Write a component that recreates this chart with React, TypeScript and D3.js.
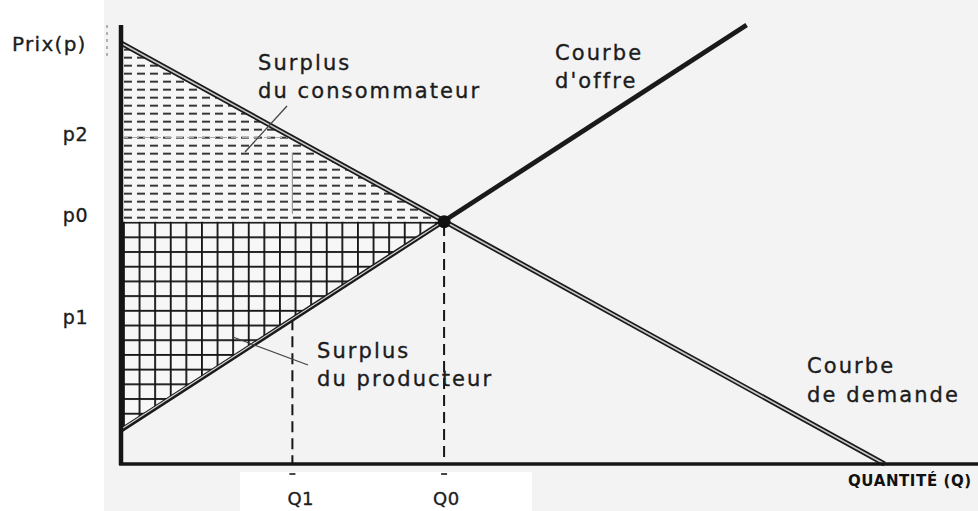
import * as d3 from "d3";

// equilibrium diagram values (quantity 0-100, price 0-100)
const demand = [
  { q: 0, p: 95.9 },
  { q: 89.1, p: 0 },
];
const supply = [
  { q: 0, p: 7.7 },
  { q: 73, p: 100 },
];
const equilibrium = { q: 37.7, p: 55.2 };
const q1 = 20;
const priceLevels = [
  { label: "p2", value: 74.4 },
  { label: "p0", value: 55.2 },
  { label: "p1", value: 32.9 },
];
const quantityLevels = [
  { label: "Q1", value: q1 },
  { label: "Q0", value: equilibrium.q },
];

const width = 978;
const height = 511;
const margin = { top: 25, right: 0, bottom: 47, left: 121 };

const font = "'DejaVu Sans', sans-serif";
const ink = "#151515";

const App = () => {
  const x = d3.scaleLinear().domain([0, 100]).range([margin.left, width - margin.right]);
  const y = d3.scaleLinear().domain([0, 100]).range([height - margin.bottom, margin.top]);

  const line = d3
    .line<{ q: number; p: number }>()
    .x((d) => x(d.q))
    .y((d) => y(d.p));

  const x0 = x(0);
  const y0 = y(0);
  const ex = x(equilibrium.q);
  const ey = y(equilibrium.p);

  const consumerArea = line([
    demand[0],
    { q: equilibrium.q, p: equilibrium.p },
    { q: 0, p: equilibrium.p },
  ]) + "Z";
  const producerArea = line([
    { q: 0, p: equilibrium.p },
    { q: equilibrium.q, p: equilibrium.p },
    supply[0],
  ]) + "Z";

  const supplyAt = (q: number) =>
    supply[0].p + ((supply[1].p - supply[0].p) * (q - supply[0].q)) / (supply[1].q - supply[0].q);
  const demandAt = (q: number) =>
    demand[0].p + ((demand[1].p - demand[0].p) * (q - demand[0].q)) / (demand[1].q - demand[0].q);

  const labelStyle = {
    fontFamily: font,
    fontSize: 21,
    letterSpacing: 2.1,
    fill: "#1c1c1c",
    stroke: "#1c1c1c",
    strokeWidth: 0.35,
  };

  return (
    <svg
      width={width}
      height={height}
      style={{ position: "absolute", left: 0, top: 0, background: "#f3f3f3" }}
    >
      <defs>
        <pattern id="dashes" patternUnits="userSpaceOnUse" x={x0 + 3} y={ey} width={13} height={8}>
          <rect width={13} height={8} fill="#f6f6f6" />
          <line x1={0} x2={8} y1={4} y2={4} stroke={ink} strokeWidth={1.7} />
        </pattern>
        <pattern id="grid" patternUnits="userSpaceOnUse" x={x0 + 2} y={ey} width={15.6} height={14.7}>
          <rect width={15.6} height={14.7} fill="#f7f7f7" />
          <line x1={0} x2={15.6} y1={0.9} y2={0.9} stroke={ink} strokeWidth={1.9} />
          <line x1={0.9} x2={0.9} y1={0} y2={14.7} stroke={ink} strokeWidth={1.9} />
        </pattern>
      </defs>

      {/* scan background */}
      <rect x={0} y={0} width={104} height={height} fill="#ffffff" />
      <rect x={240} y={472} width={292} height={39} fill="#ffffff" />

      {/* surplus areas */}
      <path d={consumerArea} fill="url(#dashes)" />
      <path d={producerArea} fill="url(#grid)" />

      {/* faint construction lines at Q1 / p2 */}
      <line x1={x0} x2={x(q1)} y1={y(demandAt(q1))} y2={y(demandAt(q1))} stroke="#aaa" strokeWidth={1.2} strokeDasharray="7 4" />
      <line x1={x(q1)} x2={x(q1)} y1={y(demandAt(q1)) + 15} y2={ey - 8} stroke="#999" strokeWidth={1.2} />
      <line x1={107} x2={107} y1={margin.top} y2={margin.top + 32} stroke="#888" strokeWidth={1.2} strokeDasharray="3 4" />

      {/* dashed quantity guides */}
      {quantityLevels.map((d) => (
        <g key={d.label}>
          <line
            x1={x(d.value)}
            x2={x(d.value)}
            y1={y(supplyAt(d.value)) + (d.value === q1 ? 0 : 4)}
            y2={y0}
            stroke={ink}
            strokeWidth={2}
            strokeDasharray="11 6"
          />
          <line x1={x(d.value) - 3} x2={x(d.value) + 3} y1={y0 + 10} y2={y0 + 10} stroke="#333" strokeWidth={1.8} />
        </g>
      ))}

      {/* demand: double line */}
      <path d={line(demand)!} stroke="#1a1a1a" strokeWidth={5} fill="none" />
      <path d={line(demand)!} stroke="#c8c8c8" strokeWidth={1.6} fill="none" />

      {/* supply */}
      <path d={line(supply)!} stroke="#1a1a1a" strokeWidth={4.8} fill="none" />
      <path
        d={line([supply[0], { q: equilibrium.q, p: equilibrium.p }])!}
        stroke="#d4d4d4"
        strokeWidth={1.2}
        fill="none"
        transform="translate(0,-1)"
      />

      {/* axes */}
      <line x1={x0} x2={x0} y1={margin.top} y2={y0 + 1} stroke={ink} strokeWidth={4.5} />
      <line x1={x0 - 2} x2={width} y1={y0} y2={y0} stroke={ink} strokeWidth={3.5} />

      {/* equilibrium point */}
      <circle cx={ex} cy={ey} r={6.5} fill="#111" />

      {/* leader lines */}
      <line x1={287} y1={106} x2={245} y2={152} stroke="#444" strokeWidth={1.3} />
      <line x1={308} y1={365} x2={233} y2={337} stroke="#444" strokeWidth={1.3} />

      {/* axis labels */}
      <text x={12} y={51} style={{ ...labelStyle, fontSize: 20, letterSpacing: 1.3 }}>
        Prix(p)
      </text>
      {priceLevels.map((d) => (
        <text
          key={d.label}
          x={88}
          y={y(d.value) + (d.label === "p0" ? 0 : 4)}
          textAnchor="end"
          style={{ ...labelStyle, fontSize: 19, letterSpacing: 0.5 }}
        >
          {d.label}
        </text>
      ))}
      {quantityLevels.map((d) => (
        <text
          key={d.label}
          x={x(d.value) + (d.label === "Q1" ? -5 : -11)}
          y={505}
          style={{ ...labelStyle, fontSize: 18, letterSpacing: 0.5 }}
        >
          {d.label}
        </text>
      ))}
      <text
        x={848}
        y={486}
        style={{ fontFamily: font, fontSize: 15, fontWeight: "bold", fill: "#111", letterSpacing: 0.6 }}
      >
        QUANTITÉ (Q)
      </text>

      {/* annotations */}
      <text x={258} y={70} style={labelStyle}>Surplus</text>
      <text x={258} y={98} style={labelStyle}>du consommateur</text>
      <text x={555} y={60} style={labelStyle}>Courbe</text>
      <text x={555} y={88} style={labelStyle}>d'offre</text>
      <text x={317} y={358} style={labelStyle}>Surplus</text>
      <text x={317} y={386} style={labelStyle}>du producteur</text>
      <text x={807} y={373} style={labelStyle}>Courbe</text>
      <text x={807} y={402} style={labelStyle}>de demande</text>
    </svg>
  );
};

export default App;
